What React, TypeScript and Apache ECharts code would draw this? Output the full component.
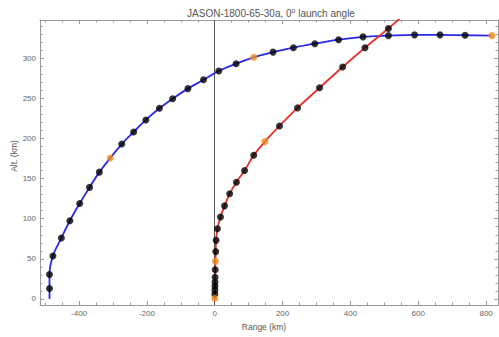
import React, { useEffect, useRef } from "react";
import * as echarts from "echarts";

// Blue trajectory (range km, altitude km)
const blueStart = [-487, 0];
const blueRange = [-487, -487, -477, -452, -427, -398, -369, -340, -308, -274, -239, -203, -163, -124, -79, -33, 12, 63, 115, 172, 232, 295, 365, 437, 512, 589, 664, 738, 817];
const blueAlt = [13, 30.5, 53.5, 76, 97.5, 119, 139, 158, 175.5, 193, 208, 223, 237.5, 249.5, 262, 273, 284, 293, 301, 307.5, 313, 318, 323, 326.5, 328, 329, 329, 328.5, 328];
const blueOrangeIdx = [8, 18, 28];

// Red trajectory
const redStart = [0, 0];
const redEnd = [550, 351];
const redRange = [0, 0.3, 0.5, 0.7, 0.9, 1.1, 1.5, 2, 3, 4, 8, 17, 29, 44, 64, 88, 115, 148, 191, 244, 309, 377, 443, 512];
const redAlt = [0.5, 6, 11, 16, 21, 27, 36.5, 47, 59, 73, 87.5, 102, 116, 131, 145.5, 160, 179, 196, 215.5, 238, 263, 289, 313, 337];
const redOrangeIdx = [0, 7, 17];

const xMin = -515;
const xMax = 835;
const yMin = -7.5;
const yMax = 347.5;

const titleText = "JASON-1800-65-30a, 0{sup|o} launch angle";
const xTitle = "Range (km)";
const yTitle = "Alt. (km)";

const FONT = "Liberation Sans, Arial, sans-serif";
const FRAME = "#9a9a9a";
const LABEL = "#666";

function pts(xs: number[], ys: number[], idx: number[] | null, keep: boolean) {
  const out: number[][] = [];
  xs.forEach((x, i) => {
    const isO = idx ? idx.includes(i) : false;
    if (idx === null || isO === keep) out.push([x, ys[i]]);
  });
  return out;
}

export default function App() {
  const ref = useRef<HTMLDivElement>(null);
  useEffect(() => {
    if (!ref.current) return;
    const chart = echarts.init(ref.current, null, { renderer: "svg" });

    const mkX = (pos: string, split: number, len: number, label: boolean, line: boolean) => ({
      type: "value",
      position: pos,
      min: xMin,
      max: xMax,
      splitNumber: split,
      axisLine: { show: line, onZero: false, lineStyle: { color: FRAME, width: 1 } },
      axisTick: { show: true, inside: true, length: len, lineStyle: { color: FRAME, width: 1 } },
      axisLabel: {
        show: label,
        showMinLabel: false,
        showMaxLabel: false,
        color: LABEL,
        fontSize: 8,
        fontFamily: FONT,
        margin: 4,
      },
      splitLine: { show: false },
    });
    const mkY = (pos: string, split: number, len: number, label: boolean, line: boolean) => ({
      type: "value",
      position: pos,
      min: yMin,
      max: yMax,
      splitNumber: split,
      axisLine: { show: line, onZero: false, lineStyle: { color: FRAME, width: 1 } },
      axisTick: { show: true, inside: true, length: len, lineStyle: { color: FRAME, width: 1 } },
      axisLabel: {
        show: label,
        showMinLabel: false,
        showMaxLabel: false,
        color: LABEL,
        fontSize: 8,
        fontFamily: FONT,
        margin: 4,
      },
      splitLine: { show: false },
    });

    const blueLine = [blueStart, ...pts(blueRange, blueAlt, null, true)];
    const redLine = [redStart, ...pts(redRange, redAlt, null, true), redEnd];

    chart.setOption({
      animation: false,
      grid: { left: 40, right: 1, top: 20, bottom: 32, containLabel: false },
      xAxis: [
        mkX("bottom", 7, 4, true, true),
        mkX("bottom", 27, 2.5, false, false),
        mkX("top", 7, 4, false, true),
        mkX("top", 27, 2.5, false, false),
      ],
      yAxis: [
        mkY("left", 7, 4, true, true),
        mkY("left", 35, 2.5, false, false),
        mkY("right", 7, 4, false, true),
        mkY("right", 35, 2.5, false, false),
      ],
      graphic: [
        {
          type: "text",
          x: 271,
          y: 13,
          style: {
            text: titleText,
            fill: "#555",
            font: `10px ${FONT}`,
            fontSize: 10,
            fontFamily: FONT,
            align: "center",
            verticalAlign: "middle",
            rich: {
              sup: { fontSize: 7, fontFamily: FONT, fill: "#555", padding: [0, 0, 6, 0] },
            },
          },
        },
        {
          type: "text",
          x: 264,
          y: 327,
          style: {
            text: xTitle,
            fill: "#555",
            fontSize: 8.5,
            fontFamily: FONT,
            align: "center",
            verticalAlign: "middle",
          },
        },
        {
          type: "text",
          x: 14,
          y: 156,
          rotation: Math.PI / 2,
          style: {
            text: yTitle,
            fill: "#555",
            fontSize: 8.5,
            fontFamily: FONT,
            align: "center",
            verticalAlign: "middle",
          },
        },
      ],
      series: [
        {
          type: "line",
          data: blueLine,
          smooth: 0.35,
          showSymbol: false,
          symbol: "none",
          lineStyle: { color: "#2a2ae6", width: 1.8 },
          clip: true,
          z: 2,
          markLine: {
            silent: true,
            symbol: "none",
            label: { show: false },
            lineStyle: { color: "#555", width: 1, type: "solid" },
            data: [{ xAxis: 0 }],
            z: 1,
          },
        },
        {
          type: "line",
          data: redLine,
          smooth: 0.35,
          showSymbol: false,
          symbol: "none",
          lineStyle: { color: "#e8302b", width: 1.8 },
          clip: true,
          z: 2,
        },
        {
          type: "scatter",
          data: [...pts(blueRange, blueAlt, blueOrangeIdx, false), ...pts(redRange, redAlt, redOrangeIdx, false)],
          symbolSize: 7,
          itemStyle: { color: "#000" },
          z: 3,
        },
        {
          type: "scatter",
          data: [...pts(blueRange, blueAlt, blueOrangeIdx, true), ...pts(redRange, redAlt, redOrangeIdx, true)],
          symbolSize: 7,
          itemStyle: { color: "#ef8a1f" },
          z: 4,
        },
      ],
    });
    return () => chart.dispose();
  }, []);
  return (
    <div
      ref={ref}
      style={{ position: "fixed", left: 0, top: 0, width: 499, height: 337, background: "#fff" }}
    />
  );
}
